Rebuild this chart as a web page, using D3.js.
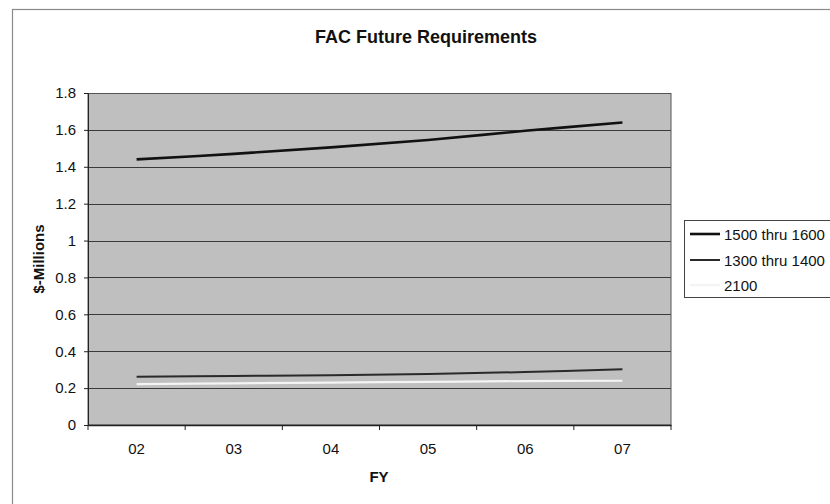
<!DOCTYPE html>
<html>
<head>
<meta charset="utf-8">
<script src="https://cdn.jsdelivr.net/npm/d3@7"></script>
<style>
  html, body { margin: 0; padding: 0; background: #fff; }
  svg { display: block; font-family: "Liberation Sans", Arial, sans-serif; }
</style>
</head>
<body>
<svg id="chart" width="830" height="504"></svg>
<script>
const years = ["02", "03", "04", "05", "06", "07"];
const s1500 = [1.44, 1.47, 1.505, 1.545, 1.595, 1.64];
const s1300 = [0.262, 0.266, 0.27, 0.277, 0.287, 0.302];
const s2100 = [0.222, 0.226, 0.23, 0.234, 0.238, 0.24];
const yTicks = [0, 0.2, 0.4, 0.6, 0.8, 1, 1.2, 1.4, 1.6, 1.8];
const seriesNames = ["1500 thru 1600", "1300 thru 1400", "2100"];

const series = [
  { name: seriesNames[0], values: s1500, color: "#111", width: 2.6 },
  { name: seriesNames[1], values: s1300, color: "#2a2a2a", width: 2.0 },
  { name: seriesNames[2], values: s2100, color: "#f4f4f4", width: 2.2 }
];

const svg = d3.select("#chart");
const L = 88, R = 671, T = 93, B = 425;

// outer frame
svg.append("rect").attr("x", 12.5).attr("y", 9.5).attr("width", 830).attr("height", 510)
  .attr("fill", "#fff").attr("stroke", "#8a8a8a").attr("stroke-width", 1.2);

const x = d3.scaleBand().domain(years).range([L, R]);
const y = d3.scaleLinear().domain([0, 1.8]).range([B, T]);

// plot background
svg.append("rect").attr("x", L).attr("y", T).attr("width", R - L).attr("height", B - T)
  .attr("fill", "#bfbfbf");

// gridlines
svg.append("g").selectAll("line").data(yTicks.filter(d => d > 0)).join("line")
  .attr("x1", L).attr("x2", R)
  .attr("y1", d => Math.round(y(d)) + 0.5).attr("y2", d => Math.round(y(d)) + 0.5)
  .attr("stroke", "#3a3a3a").attr("stroke-width", 1);

// plot border
svg.append("rect").attr("x", L).attr("y", T + 0.5).attr("width", R - L).attr("height", B - T - 0.5)
  .attr("fill", "none").attr("stroke", "#555").attr("stroke-width", 1);

// y axis
const yAxis = d3.axisLeft(y).tickValues(yTicks).tickSize(4).tickPadding(8)
  .tickFormat(d => d3.format("")(+d.toFixed(1)));
const gy = svg.append("g").attr("transform", `translate(${L},0)`).call(yAxis);
gy.select(".domain").attr("stroke", "#222");
gy.selectAll(".tick line").attr("stroke", "#222");
gy.selectAll(".tick text").attr("font-size", 15).attr("fill", "#111")
  .attr("font-family", "Liberation Sans, Arial, sans-serif");

// x axis
const xAxis = d3.axisBottom(x).tickSize(0).tickPadding(18);
const gx = svg.append("g").attr("transform", `translate(0,${B})`).call(xAxis);
gx.select(".domain").attr("stroke", "#222").attr("stroke-width", 1.5);
gx.selectAll(".tick text").attr("font-size", 15).attr("fill", "#111")
  .attr("font-family", "Liberation Sans, Arial, sans-serif");
// tick marks at category boundaries
const edges = years.map(d => x(d)).concat([x(years[years.length - 1]) + x.bandwidth()]);
svg.append("g").selectAll("line").data(edges).join("line")
  .attr("x1", d => d).attr("x2", d => d).attr("y1", B).attr("y2", B + 5)
  .attr("stroke", "#222").attr("stroke-width", 1);

// lines
const line = d3.line()
  .x((d, i) => x(years[i]) + x.bandwidth() / 2)
  .y(d => y(d))
  .curve(d3.curveCatmullRom.alpha(0.5));

svg.append("g").selectAll("path").data(series.slice().reverse()).join("path")
  .attr("d", d => line(d.values))
  .attr("fill", "none")
  .attr("stroke", d => d.color)
  .attr("stroke-width", d => d.width);

// title
svg.append("text").attr("x", 426).attr("y", 43).attr("text-anchor", "middle")
  .attr("font-size", 18).attr("font-weight", "bold").attr("fill", "#111")
  .text("FAC Future Requirements");

// axis titles
svg.append("text").attr("x", 379).attr("y", 482).attr("text-anchor", "middle")
  .attr("font-size", 15).attr("font-weight", "bold").attr("fill", "#111").text("FY");
svg.append("text").attr("transform", "translate(44,259) rotate(-90)").attr("text-anchor", "middle")
  .attr("font-size", 15).attr("font-weight", "bold").attr("fill", "#111").text("$-Millions");

// legend
const lg = svg.append("g");
lg.append("rect").attr("x", 684.5).attr("y", 220.5).attr("width", 200).attr("height", 77)
  .attr("fill", "#fff").attr("stroke", "#444").attr("stroke-width", 1);
const rowY = [234, 260, 285];
series.forEach((s, i) => {
  lg.append("line").attr("x1", 690).attr("x2", 720).attr("y1", rowY[i]).attr("y2", rowY[i])
    .attr("stroke", s.color).attr("stroke-width", s.width);
  lg.append("text").attr("x", 724).attr("y", rowY[i] + 5.5)
    .attr("font-size", 15).attr("fill", "#111").text(s.name);
});
</script>
</body>
</html>
